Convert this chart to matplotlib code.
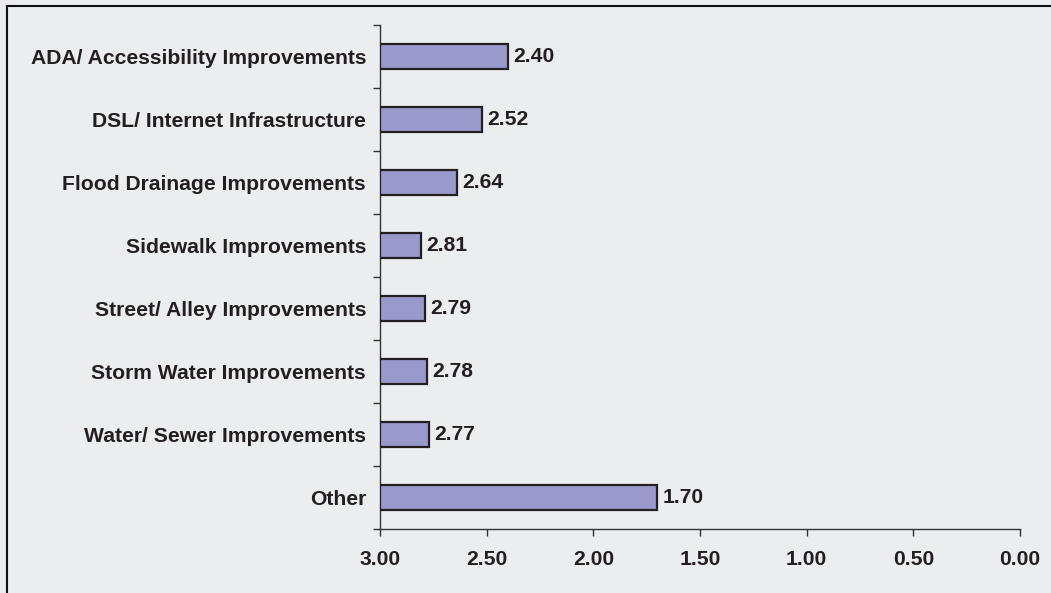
import numpy as np
import matplotlib.pyplot as plt
from matplotlib.lines import Line2D

# ─────────────────────────────────────────
# Data (top to bottom)
# ─────────────────────────────────────────
categories = [
    'ADA/ Accessibility Improvements',
    'DSL/ Internet Infrastructure',
    'Flood Drainage Improvements',
    'Sidewalk Improvements',
    'Street/ Alley Improvements',
    'Storm Water Improvements',
    'Water/ Sewer Improvements',
    'Other',
]
scores = [2.40, 2.52, 2.64, 2.81, 2.79, 2.78, 2.77, 1.70]
x_ticks = [3.00, 2.50, 2.00, 1.50, 1.00, 0.50, 0.00]

bg = '#ecedef'
bar_color = '#9999cc'
ink = '#231f20'
fs = 15.2

plt.rcParams['font.family'] = ['Liberation Sans', 'DejaVu Sans']

fig = plt.figure(figsize=(10.51, 5.93), dpi=100, facecolor=bg)
ax = fig.add_axes([380 / 1051, 1 - 529 / 593, 640 / 1051, 504 / 593])
ax.set_facecolor(bg)

n = len(categories)
y = np.arange(n)[::-1]

# bars grow from the 3.00 end of the reversed axis
base = 3.0
ax.barh(y, np.array(scores) - base, left=base, height=0.41,
        color=bar_color, edgecolor=ink, linewidth=1.6, zorder=3)

for yi, v in zip(y, scores):
    ax.text(v - 0.025, yi, f'{v:.2f}', va='center', ha='left',
            fontsize=fs, fontweight='bold', color=ink)

ax.set_xlim(3.0, 0.0)
ax.set_ylim(-0.5, n - 0.5)

ax.set_xticks(x_ticks)
ax.set_xticklabels([f'{t:.2f}' for t in x_ticks], fontsize=fs,
                   fontweight='bold', color=ink)
ax.set_yticks(y)
ax.set_yticklabels(categories, fontsize=fs, fontweight='bold', color=ink)
ax.set_yticks(np.arange(n + 1) - 0.5, minor=True)

ax.tick_params(axis='y', which='major', length=0, pad=10)
ax.tick_params(axis='y', which='minor', length=5, width=1, color='#333333')
ax.tick_params(axis='x', which='major', length=5, width=1, color='#333333', pad=10)

for side in ('top', 'right'):
    ax.spines[side].set_visible(False)
for side in ('left', 'bottom'):
    ax.spines[side].set_color('#333333')
    ax.spines[side].set_linewidth(1)

# frame lines along the top and left of the figure
fig.add_artist(Line2D([7 / 1051, 1], [1 - 6 / 593, 1 - 6 / 593],
                      transform=fig.transFigure, color='#111111', lw=1.5))
fig.add_artist(Line2D([7 / 1051, 7 / 1051], [0, 1 - 6 / 593],
                      transform=fig.transFigure, color='#111111', lw=1.5))

plt.savefig('out.png', dpi=100, facecolor=bg)
